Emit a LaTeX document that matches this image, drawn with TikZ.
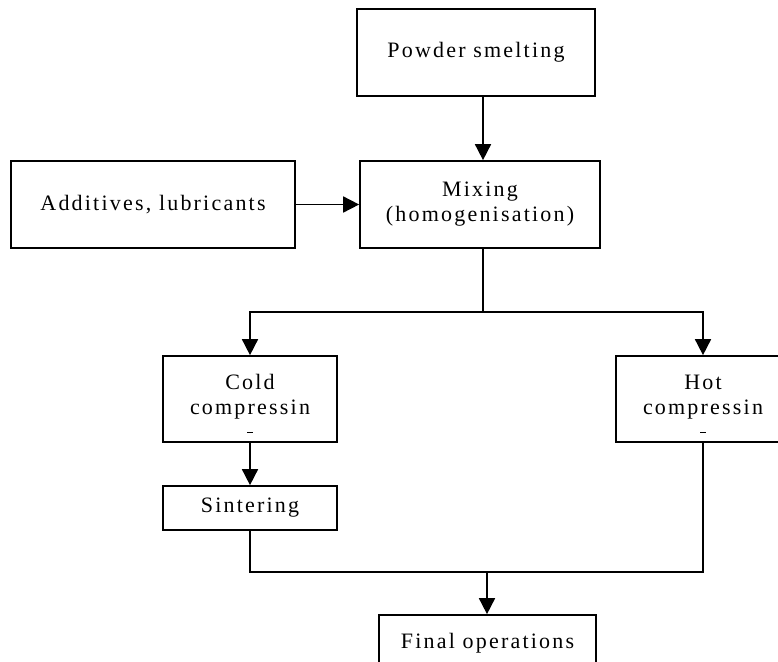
\documentclass[tikz,border=0pt]{standalone}
\usepackage{fontspec}
\setmainfont[LetterSpace=10]{Liberation Serif}
\usetikzlibrary{arrows.meta}
\begin{document}
\begin{tikzpicture}[x=1pt,y=-1pt,
  box/.style n args={2}{draw, line width=1.7pt, minimum width=#1, minimum height=#2,
    inner sep=0pt, align=center, font=\fontsize{22}{25}\selectfont},
  txt/.style={inner sep=0pt, align=center, font=\fontsize{22}{25}\selectfont},
  ln/.style={line width=1.7pt},
  gmark/.style={line width=0.8pt},
  arr/.style={line width=1.7pt, -{Triangle[length=16pt,width=16pt]}}]
\useasboundingbox (0,0) rectangle (778,661);
\fill[white] (0,0) rectangle (778,661);
% boxes
\node[box={238pt}{87pt}] (powder) at (476,52.5) {Powder smelting};
\node[box={284pt}{87pt}] (add) at (153,204.5) {Additives, lubricants};
\node[box={240pt}{87pt}] (mix) at (480,204.5) {Mixing\\(homogenisation)};
\node[box={174pt}{86pt}] (cold) at (250,399) {};
\node[txt] (coldtxt) at (250,397) {Cold\\compressin};
\node[box={174pt}{86pt}] (hot) at (703,399) {};
\node[txt] (hottxt) at (703,397) {Hot\\compressin};
\node[box={174pt}{44pt}] (sint) at (250,508) {Sintering};
\node[box={217pt}{56pt}] (final) at (487.5,643) {Final operations};
% clipped descender marks under "compressin"
\draw[gmark] ([xshift=-3pt,yshift=-33pt]cold.center) -- ([xshift=3pt,yshift=-33pt]cold.center);
\draw[gmark] ([xshift=-3pt,yshift=-33pt]hot.center) -- ([xshift=3pt,yshift=-33pt]hot.center);
% junction coordinates
\coordinate (top) at (483,0);
\coordinate (split) at (483,312);
\coordinate (merge) at (487,572);
% connectors
\draw[arr] (powder.south -| top) -- (mix.north -| top);
\draw[arr] (add.east) -- (mix.west);
\draw[ln] (mix.south -| split) -- (split);
\draw[arr] (split) -| (cold.north);
\draw[arr] (split) -| (hot.north);
\draw[arr] (cold.south) -- (sint.north);
\draw[ln] (sint.south) |- (merge);
\draw[ln] (hot.south) |- (merge);
\draw[arr] (merge) -- (final.north -| merge);
\end{tikzpicture}
\end{document}
